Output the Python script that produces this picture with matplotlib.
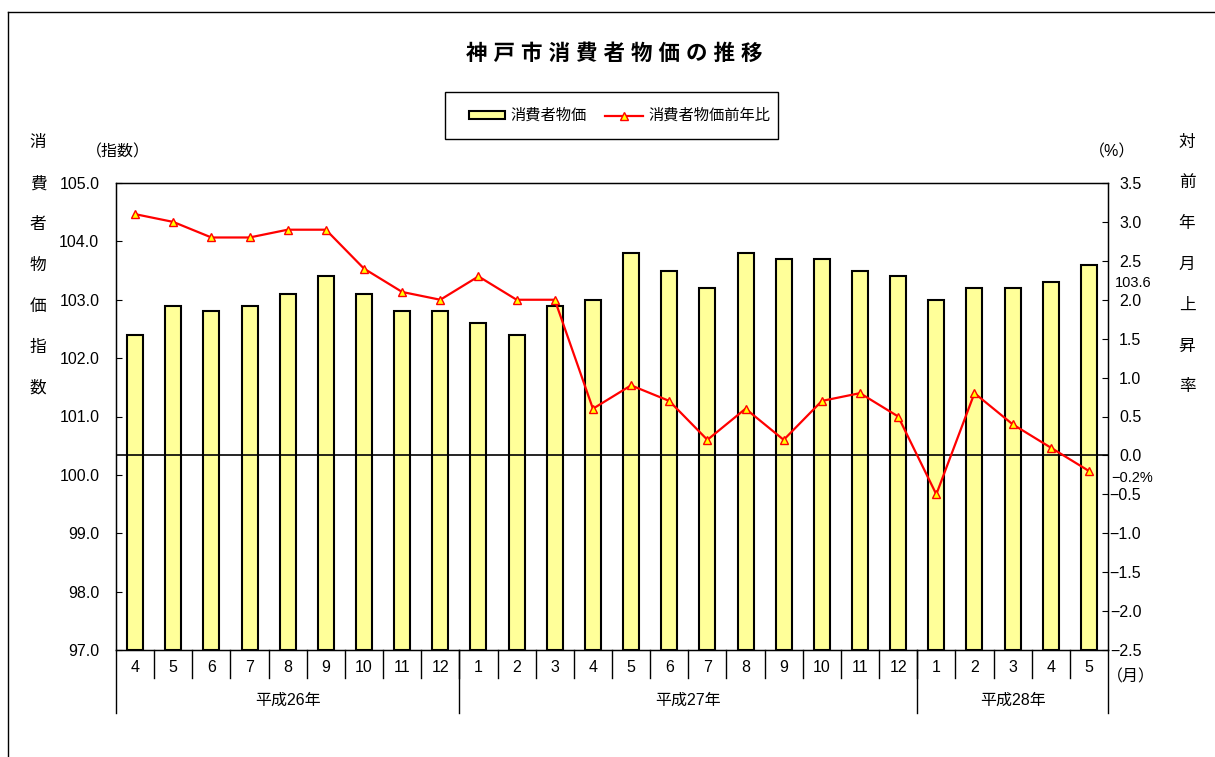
import matplotlib.pyplot as plt
from matplotlib.lines import Line2D
from matplotlib.patches import Rectangle
import matplotlib.transforms as mtransforms

plt.rcParams['font.family'] = ['Liberation Sans', 'Noto Sans CJK JP', 'DejaVu Sans']
plt.rcParams['axes.unicode_minus'] = True

# データ
months = ['4', '5', '6', '7', '8', '9', '10', '11', '12',
          '1', '2', '3', '4', '5', '6', '7', '8', '9', '10', '11', '12',
          '1', '2', '3', '4', '5']
cpi = [102.4, 102.9, 102.8, 102.9, 103.1, 103.4, 103.1, 102.8, 102.8,
       102.6, 102.4, 102.9, 103.0, 103.8, 103.5, 103.2, 103.8, 103.7, 103.7, 103.5, 103.4,
       103.0, 103.2, 103.2, 103.3, 103.6]
yoy = [3.1, 3.0, 2.8, 2.8, 2.9, 2.9, 2.4, 2.1, 2.0,
       2.3, 2.0, 2.0, 0.6, 0.9, 0.7, 0.2, 0.6, 0.2, 0.7, 0.8, 0.5,
       -0.5, 0.8, 0.4, 0.1, -0.2]
years = ['平成26年', '平成27年', '平成28年']
year_counts = [9, 12, 5]

W, H = 1215, 757
fig = plt.figure(figsize=(W / 100, H / 100), dpi=100)

def fx(px):
    return px / W

def fy(py):
    return 1 - py / H

# 外枠
fig.add_artist(Line2D([fx(8), fx(8)], [0, fy(12)], color='black', lw=1))
fig.add_artist(Line2D([fx(8), 1], [fy(12), fy(12)], color='black', lw=1))

ax = fig.add_axes([fx(116), fy(650), fx(1108) - fx(116), fy(183) - fy(650)])
x = list(range(len(cpi)))
ax.bar(x, [v - 97 for v in cpi], bottom=97, width=0.42, color='#FFFF99',
       edgecolor='black', linewidth=1.5, label='消費者物価', zorder=2)
ax.set_xlim(-0.5, len(cpi) - 0.5)
ax.set_ylim(97, 105)
ax.set_yticks([97 + i for i in range(9)])
ax.set_yticklabels([f'{97 + i:.1f}' for i in range(9)], fontsize=11.5)
ax.tick_params(axis='y', direction='in', length=4, pad=12)
ax.set_xticks([])
for s in ax.spines.values():
    s.set_linewidth(1)

ax2 = ax.twinx()
ax2.plot(x, yoy, color='red', lw=1.6, marker='^', markersize=5.5,
         markerfacecolor='yellow', markeredgecolor='red', markeredgewidth=1,
         label='消費者物価前年比', zorder=3)
ax2.axhline(0, color='black', lw=1.2, zorder=1)
ax2.set_ylim(-2.5, 3.5)
rt = [-2.5 + 0.5 * i for i in range(13)]
ax2.set_yticks(rt)
ax2.set_yticklabels([f'{v:.1f}'.replace('-', '\u2212') if abs(v) > 1e-9 else '0.0' for v in rt],
                    fontsize=11.5, ha='right')
ax2.tick_params(axis='y', direction='in', length=4, pad=24)
ax2.set_xlim(-0.5, len(cpi) - 0.5)

# データラベル
ax.annotate('103.6', xy=(25, 103.6), xytext=(32, -13), textcoords='offset points',
            fontsize=10.5, ha='center', va='center')
ax2.annotate('−0.2%', xy=(25, -0.2), xytext=(31, -5), textcoords='offset points',
             fontsize=10.5, ha='center', va='center')

# 月・年ラベル
trans = mtransforms.blended_transform_factory(ax.transData, ax.transAxes)
hpx = 650 - 183
for i, m in enumerate(months):
    ax.text(i, -(668 - 650) / hpx, m, transform=trans, ha='center', va='center', fontsize=11.5)
    if i > 0:
        ax.plot([i - 0.5, i - 0.5], [0, -(678 - 650) / hpx], transform=trans,
                color='black', lw=1, clip_on=False)
start = 0
for name, n in zip(years, year_counts):
    ax.plot([start - 0.5, start - 0.5], [0, -(713 - 650) / hpx], transform=trans,
            color='black', lw=1, clip_on=False)
    ax.text(start - 0.5 + n / 2, -(700 - 650) / hpx, name, transform=trans,
            ha='center', va='center', fontsize=11.5)
    start += n
ax.plot([start - 0.5, start - 0.5], [0, -(713 - 650) / hpx], transform=trans,
        color='black', lw=1, clip_on=False)

# タイトル・軸名
fig.text(fx(614), fy(54), ' '.join('神戸市消費者物価の推移'), ha='center', va='center',
         fontsize=15.5, fontweight='bold')
fig.text(fx(118), fy(152), '（指数）', ha='center', va='center', fontsize=11.5)
fig.text(fx(1112), fy(152), '（%）', ha='center', va='center', fontsize=11.5)
fig.text(fx(1131), fy(677), '（月）', ha='center', va='center', fontsize=11.5)
for k, ch in enumerate('消費者物価指数'):
    fig.text(fx(38), fy(143 + k * 40.8), ch, ha='center', va='center', fontsize=12)
for k, ch in enumerate('対前年月上昇率'):
    fig.text(fx(1187), fy(142 + k * 40.8), ch, ha='center', va='center', fontsize=12)

# 凡例
fig.add_artist(Rectangle((fx(445), fy(139)), fx(778) - fx(445), fy(92) - fy(139),
                         transform=fig.transFigure, facecolor='white', edgecolor='black', lw=1))
fig.add_artist(Rectangle((fx(469), fy(119)), fx(505) - fx(469), fy(111) - fy(119),
                         transform=fig.transFigure, facecolor='#FFFF99', edgecolor='black', lw=1.5))
fig.text(fx(510), fy(116), '消費者物価', ha='left', va='center', fontsize=11)
fig.add_artist(Line2D([fx(605), fx(643)], [fy(116), fy(116)], color='red', lw=1.6,
                      transform=fig.transFigure))
fig.add_artist(Line2D([fx(624)], [fy(116)], marker='^', markersize=5.5, markerfacecolor='yellow',
                      markeredgecolor='red', markeredgewidth=1, transform=fig.transFigure))
fig.text(fx(648), fy(116), '消費者物価前年比', ha='left', va='center', fontsize=11)

fig.savefig('out.png', dpi=100)
